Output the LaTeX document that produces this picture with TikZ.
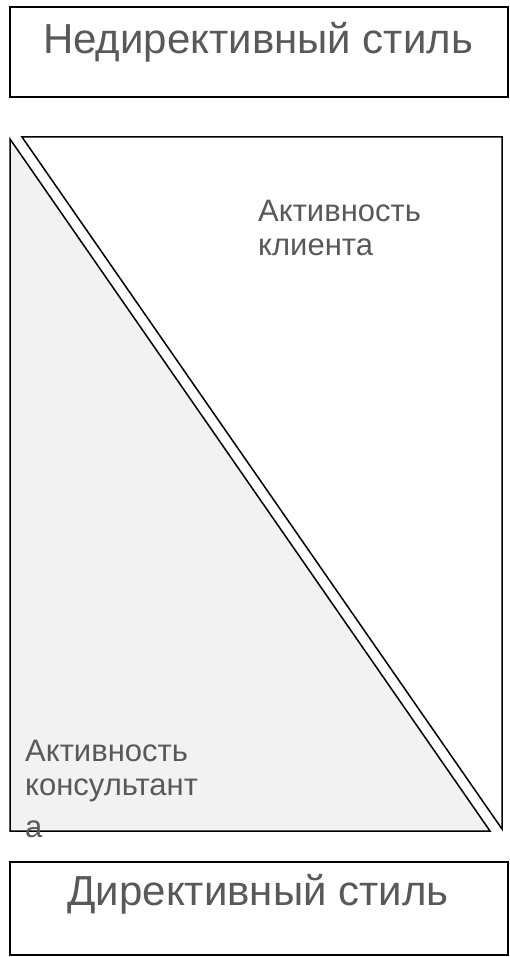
\documentclass[tikz,border=0pt]{standalone}
\usepackage{fontspec}
\setmainfont{Liberation Sans}
\definecolor{txtgray}{HTML}{595959}
\definecolor{fillgray}{HTML}{F2F2F2}
\begin{document}
\begin{tikzpicture}[x=1pt,y=-1pt,
  frame/.style={draw=black,line width=1.6pt},
  tri/.style={draw=black,line width=1.5pt,line join=miter},
  bigtxt/.style={text=txtgray,font=\fontsize{42}{44}\selectfont,inner sep=0pt,anchor=base},
  smalltxt/.style={text=txtgray,font=\fontsize{31}{34}\selectfont,inner sep=0pt,anchor=base west,align=left}]
\useasboundingbox (0,0) rectangle (510,957);
% boxes
\draw[frame] (10,7) rectangle (508,97);
\draw[frame] (10,862) rectangle (508,955);
% triangles
\draw[tri,fill=fillgray] (10,139) -- (10,831) -- (490,831) -- cycle;
\draw[tri,fill=white] (22,137) -- (502,137) -- (502,829) -- cycle;
% texts
\node[bigtxt] (top) at (258,54) {Недирективный стиль};
\node[bigtxt] (bottom) at (258,905) {Директивный стиль};
\node[smalltxt] (client) at (258,256) {Активность\\клиента};
\node[smalltxt] (consult) at (25,837) {Активность\\консультант\\[8pt]а};
\end{tikzpicture}
\end{document}
